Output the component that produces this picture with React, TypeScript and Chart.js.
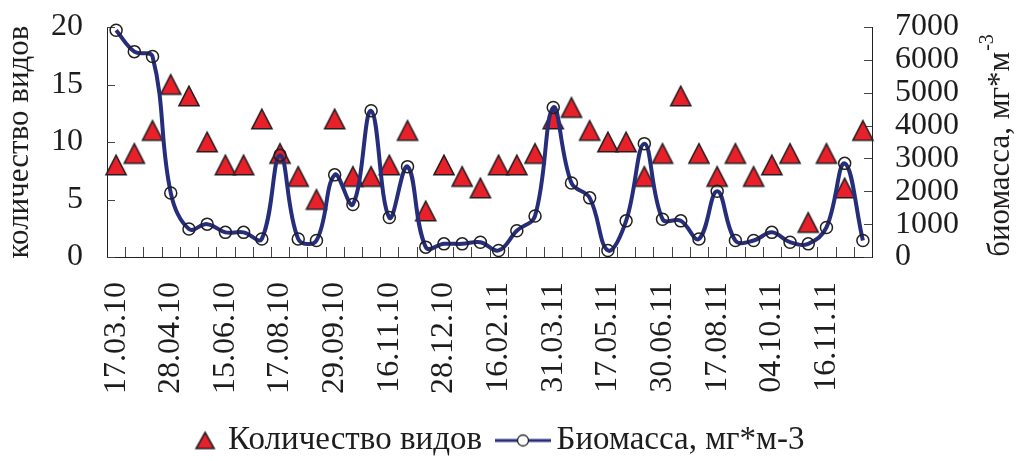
import React, { useEffect, useRef } from 'react';
import { Chart, registerables } from 'chart.js';

Chart.register(...registerables);

// ---- data ----
const dateLabels = [
  '17.03.10', '28.04.10', '15.06.10', '17.08.10', '29.09.10', '16.11.10', '28.12.10',
  '16.02.11', '31.03.11', '17.05.11', '30.06.11', '17.08.11', '04.10.11', '16.11.11',
];
const samplesPerLabel = 3;

const speciesCount = [
  8, 9, 11, 15, 14, 10, 8, 8, 12, 9,
  7, 5, 12, 7, 7, 8, 11, 4, 8, 7,
  6, 8, 8, 9, 12, 13, 11, 10, 10, 7,
  9, 14, 9, 7, 9, 7, 8, 9, 3, 9,
  6, 11,
];
const biomass = [
  6900, 6250, 6100, 1950, 850, 1000, 750, 750, 550, 3100,
  550, 500, 2500, 1600, 4450, 1200, 2750, 300, 400, 400,
  450, 200, 800, 1250, 4550, 2250, 1800, 200, 1100, 3450,
  1150, 1100, 550, 2000, 500, 500, 750, 450, 400, 900,
  2850, 500,
];
const categories = speciesCount.map((_, i) =>
  i % samplesPerLabel === 0 ? dateLabels[i / samplesPerLabel] ?? '' : ''
);
const speciesTicks = [0, 5, 10, 15, 20];
const biomassTicks = [0, 1000, 2000, 3000, 4000, 5000, 6000, 7000];

const leftTitle = 'количество видов';
const rightTitle = 'биомасса, мг*м';
const rightTitleSup = '-3';
const speciesLabel = 'Количество видов';
const biomassLabel = 'Биомасса, мг*м-3';

// ---- styles ----
const FONT = "'Liberation Serif', 'Times New Roman', serif";
const TEXT = '#1e1c1d';
const NAVY = '#262e7c';
const RED = '#e8202a';
const EDGE = '#231f20';
const TICK_SIZE = 32;
const TITLE_SIZE = 31;
const LEGEND_SIZE = 33;

function makeTriangle(w: number, h: number, cw: number, ch: number, dx: number) {
  const c = document.createElement('canvas');
  c.width = cw;
  c.height = ch;
  const g = c.getContext('2d')!;
  const cx = cw / 2 + dx;
  const cy = ch / 2;
  g.beginPath();
  g.moveTo(cx, cy - h / 2);
  g.lineTo(cx + w / 2, cy + h / 2);
  g.lineTo(cx - w / 2, cy + h / 2);
  g.closePath();
  g.fillStyle = RED;
  g.fill();
  g.lineWidth = 1.6;
  g.lineJoin = 'miter';
  g.strokeStyle = EDGE;
  g.stroke();
  return c;
}

function makeLineSample(dx: number) {
  const c = document.createElement('canvas');
  c.width = 90;
  c.height = 30;
  const g = c.getContext('2d')!;
  const cx = 45 + dx;
  g.strokeStyle = NAVY;
  g.lineWidth = 3;
  g.beginPath();
  g.moveTo(cx - 28, 15);
  g.lineTo(cx + 28, 15);
  g.stroke();
  g.beginPath();
  g.arc(cx, 15, 5.5, 0, Math.PI * 2);
  g.fillStyle = '#ffffff';
  g.fill();
  g.lineWidth = 1.3;
  g.strokeStyle = EDGE;
  g.stroke();
  return c;
}

const decorPlugin = {
  id: 'decor',
  beforeDatasetsDraw(chart: any) {
    const { ctx, chartArea: ca, scales } = chart;
    const x = scales.x;
    const yl = scales.y;
    const yr = scales.y1;
    ctx.save();
    ctx.strokeStyle = '#444';
    ctx.lineWidth = 1;
    ctx.beginPath();
    yl.ticks.forEach((t: any) => {
      const py = Math.round(yl.getPixelForValue(t.value)) + 0.5;
      ctx.moveTo(ca.left, py);
      ctx.lineTo(ca.left + 8, py);
    });
    yr.ticks.forEach((t: any) => {
      const py = Math.round(yr.getPixelForValue(t.value)) + 0.5;
      ctx.moveTo(ca.right, py);
      ctx.lineTo(ca.right - 8, py);
    });
    const step = x.getPixelForValue(1) - x.getPixelForValue(0);
    for (let i = 1; i < categories.length; i++) {
      const px = Math.round(x.getPixelForValue(i) - step / 2) + 0.5;
      ctx.moveTo(px, ca.bottom);
      ctx.lineTo(px, ca.bottom - 10);
    }
    ctx.stroke();
    ctx.restore();
  },
  afterDraw(chart: any) {
    const { ctx, chartArea: ca } = chart;
    const cy = (ca.top + ca.bottom) / 2;
    ctx.save();
    ctx.fillStyle = TEXT;
    ctx.font = `${TITLE_SIZE}px ${FONT}`;
    ctx.textAlign = 'center';
    ctx.textBaseline = 'middle';
    ctx.translate(20, cy);
    ctx.rotate(-Math.PI / 2);
    ctx.fillText(leftTitle, 0, 0);
    ctx.restore();

    ctx.save();
    ctx.fillStyle = TEXT;
    ctx.font = `${TITLE_SIZE}px ${FONT}`;
    const wm = ctx.measureText(rightTitle).width;
    ctx.font = `20px ${FONT}`;
    const ws = ctx.measureText(rightTitleSup).width;
    ctx.translate(1001, cy + 4);
    ctx.rotate(-Math.PI / 2);
    const start = -(wm + ws) / 2;
    ctx.textAlign = 'left';
    ctx.textBaseline = 'middle';
    ctx.font = `${TITLE_SIZE}px ${FONT}`;
    ctx.fillText(rightTitle, start, 0);
    ctx.font = `20px ${FONT}`;
    ctx.fillText(rightTitleSup, start + wm + 1, -13);
    ctx.restore();
  },
};

export default function App() {
  const ref = useRef<HTMLCanvasElement | null>(null);

  useEffect(() => {
    if (!ref.current) return;
    const tri = makeTriangle(20, 19.5, 24, 24, 0);
    const legendTri = makeTriangle(18, 16, 80, 30, 19.5);
    const legendLine = makeLineSample(9);

    const tickFont = { family: FONT, size: TICK_SIZE };
    const chart = new Chart(ref.current, {
      type: 'line',
      data: {
        labels: categories,
        datasets: [
          {
            label: speciesLabel,
            data: speciesCount,
            yAxisID: 'y',
            showLine: false,
            pointStyle: tri as any,
            pointRadius: 10,
            order: 1,
            clip: false as any,
          },
          {
            label: biomassLabel,
            data: biomass,
            yAxisID: 'y1',
            borderColor: NAVY,
            borderWidth: 4,
            tension: 0.4,
            pointStyle: 'circle',
            pointRadius: 6,
            pointBorderWidth: 1.5,
            pointBorderColor: EDGE,
            pointBackgroundColor: 'rgba(0,0,0,0)',
            order: 0,
            clip: false as any,
          },
        ],
      },
      options: {
        animation: false,
        responsive: false,
        layout: { padding: { top: 27, bottom: -6, left: 0, right: 52 } },
        scales: {
          x: {
            type: 'category',
            offset: true,
            grid: { display: false, drawTicks: false },
            border: { display: true, color: '#222', width: 1 },
            ticks: {
              autoSkip: false,
              maxRotation: 90,
              minRotation: 90,
              padding: 25,
              font: tickFont,
              color: TEXT,
            },
            afterFit: (s: any) => {
              s.height = 161;
              s.paddingLeft = 0;
              s.paddingRight = 0;
            },
          },
          y: {
            position: 'left',
            min: speciesTicks[0],
            max: speciesTicks[speciesTicks.length - 1],
            afterBuildTicks: (s: any) => {
              s.ticks = speciesTicks.map((v) => ({ value: v }));
            },
            grid: { display: false, drawTicks: false },
            border: { display: true, color: '#222', width: 1 },
            ticks: {
              autoSkip: false,
              padding: 24,
              font: tickFont,
              color: TEXT,
              callback: (v: any) => String(v),
            },
            afterFit: (s: any) => {
              s.width = 107;
              s.paddingTop = 0;
              s.paddingBottom = 0;
            },
          },
          y1: {
            position: 'right',
            min: biomassTicks[0],
            max: biomassTicks[biomassTicks.length - 1],
            afterBuildTicks: (s: any) => {
              s.ticks = biomassTicks.map((v) => ({ value: v }));
            },
            grid: { display: false, drawTicks: false },
            border: { display: true, color: '#222', width: 1 },
            ticks: {
              autoSkip: false,
              padding: 23,
              font: tickFont,
              color: TEXT,
              callback: (v: any) => String(v),
            },
            afterFit: (s: any) => {
              s.width = 92;
              s.paddingTop = 0;
              s.paddingBottom = 0;
            },
          },
        },
        plugins: {
          tooltip: { enabled: false },
          legend: {
            position: 'bottom',
            labels: {
              usePointStyle: true,
              pointStyleWidth: 52,
              padding: 6,
              color: TEXT,
              font: { family: FONT, size: LEGEND_SIZE },
              generateLabels: () => [
                {
                  text: speciesLabel,
                  pointStyle: legendTri as any,
                  datasetIndex: 0,
                  hidden: false,
                  fillStyle: 'transparent',
                  strokeStyle: 'transparent',
                  lineWidth: 0,
                  fontColor: TEXT,
                },
                {
                  text: biomassLabel,
                  pointStyle: legendLine as any,
                  datasetIndex: 1,
                  hidden: false,
                  fillStyle: 'transparent',
                  strokeStyle: 'transparent',
                  lineWidth: 0,
                  fontColor: TEXT,
                },
              ],
            },
          },
        },
      },
      plugins: [decorPlugin],
    });
    return () => chart.destroy();
  }, []);

  return (
    <div style={{ position: 'fixed', left: 0, top: 0, width: 1016, height: 461, background: '#fff' }}>
      <canvas ref={ref} width={1016} height={461} style={{ display: 'block' }} />
    </div>
  );
}
